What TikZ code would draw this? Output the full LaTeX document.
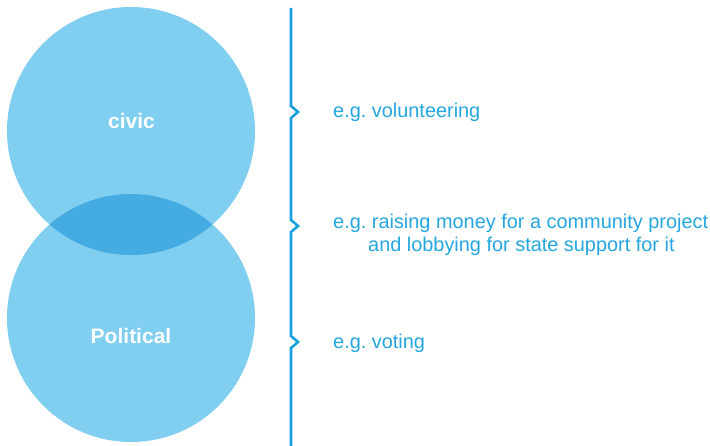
\documentclass[tikz,border=0pt]{standalone}
\usepackage{fontspec}
\setmainfont{Liberation Sans}
\definecolor{circ}{RGB}{128,207,241}
\definecolor{overl}{RGB}{69,171,227}
\definecolor{linec}{RGB}{26,160,224}
\definecolor{txtc}{RGB}{36,166,224}
\frenchspacing
\begin{document}
\begin{tikzpicture}[x=1pt,y=-1pt,
  circlabel/.style={text=white,font=\fontsize{21}{24}\selectfont\bfseries,inner sep=0pt},
  example/.style={text=txtc,font=\fontsize{19.9}{23}\selectfont,inner sep=0pt,anchor=base west}]
\useasboundingbox (0,0) rectangle (710,446);
\fill[circ] (131,131) circle[radius=124];
\fill[circ] (131,318) circle[radius=124];
\begin{scope}
\clip (131,131) circle[radius=124];
\fill[overl] (131,318) circle[radius=124];
\end{scope}
\node[circlabel] (civic) at (131.5,121) {civic};
\node[circlabel] (political) at (131,335.5) {Political};
\draw[linec,line width=2.6pt,line join=miter]
  (291,8) -- (291,106) -- (298,112) -- (291,118) -- (291,220) -- (298,226) -- (291,232)
  -- (291,336) -- (298,342) -- (291,348) -- (291,446);
\node[example] (ex1) at (333,118) {e.g. volunteering};
\node[example] (ex2a) at (333,229) {e.g. raising money for a community project};
\node[example] (ex2b) at (368,252) {and lobbying for state support for it};
\node[example] (ex3) at (333,349) {e.g. voting};
\end{tikzpicture}
\end{document}
